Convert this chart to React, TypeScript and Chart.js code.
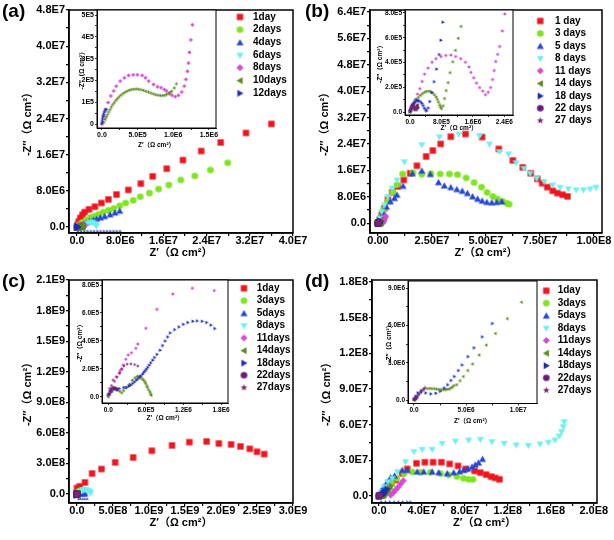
import React, { useEffect, useRef } from 'react';
import { Chart, registerables } from 'chart.js';
Chart.register(...registerables);

type P = [number, number];
type Shape = 'square' | 'circle' | 'up' | 'down' | 'diamond' | 'left' | 'right' | 'star';

const FONT = "'Liberation Sans', Arial, 'Noto Sans CJK SC', sans-serif";

// ---------- tick values & labels ----------
const aXTicks = [0, 8e6, 1.6e7, 2.4e7, 3.2e7, 4.0e7];
const aXLabels = ['0.0', '8.0E6', '1.6E7', '2.4E7', '3.2E7', '4.0E7'];
const aYTicks = [0, 8e6, 1.6e7, 2.4e7, 3.2e7, 4.0e7, 4.8e7];
const aYLabels = ['0.0', '8.0E6', '1.6E7', '2.4E7', '3.2E7', '4.0E7', '4.8E7'];
const bXTicks = [0, 2.5e7, 5e7, 7.5e7, 1e8];
const bXLabels = ['0.00', '2.50E7', '5.00E7', '7.50E7', '1.00E8'];
const bYTicks = [0, 8e6, 1.6e7, 2.4e7, 3.2e7, 4.0e7, 4.8e7, 5.6e7, 6.4e7];
const bYLabels = ['0.0', '8.0E6', '1.6E7', '2.4E7', '3.2E7', '4.0E7', '4.8E7', '5.6E7', '6.4E7'];
const cXTicks = [0, 5e8, 1e9, 1.5e9, 2e9, 2.5e9, 3e9];
const cXLabels = ['0.0', '5.0E8', '1.0E9', '1.5E9', '2.0E9', '2.5E9', '3.0E9'];
const cYTicks = [0, 3e8, 6e8, 9e8, 1.2e9, 1.5e9, 1.8e9, 2.1e9];
const cYLabels = ['0.0', '3.0E8', '6.0E8', '9.0E8', '1.2E9', '1.5E9', '1.8E9', '2.1E9'];
const dXTicks = [0, 4e7, 8e7, 1.2e8, 1.6e8, 2e8];
const dXLabels = ['0.0', '4.0E7', '8.0E7', '1.2E8', '1.6E8', '2.0E8'];
const dYTicks = [0, 3e7, 6e7, 9e7, 1.2e8, 1.5e8, 1.8e8];
const dYLabels = ['0.0', '3.0E7', '6.0E7', '9.0E7', '1.2E8', '1.5E8', '1.8E8'];

const aiXTicks = [0, 5e5, 1e6, 1.5e6];
const aiXLabels = ['0.0', '5.0E5', '1.0E6', '1.5E6'];
const aiYTicks = [0, 1e5, 2e5, 3e5, 4e5, 5e5];
const aiYLabels = ['0', '1E5', '2E5', '3E5', '4E5', '5E5'];
const biXTicks = [0, 8e5, 1.6e6, 2.4e6];
const biXLabels = ['0.0', '8.0E5', '1.6E6', '2.4E6'];
const biYTicks = [0, 2e5, 4e5, 6e5, 8e5];
const biYLabels = ['0.0', '2.0E5', '4.0E5', '6.0E5', '8.0E5'];
const ciXTicks = [0, 6e5, 1.2e6, 1.8e6];
const ciXLabels = ['0.0', '6.0E5', '1.2E6', '1.8E6'];
const ciYTicks = [0, 2e5, 4e5, 6e5, 8e5];
const ciYLabels = ['0.0', '2.0E5', '4.0E5', '6.0E5', '8.0E5'];
const diXTicks = [0, 5e6, 1e7];
const diXLabels = ['0.0', '5.0E6', '1.0E7'];
const diYTicks = [0, 3e6, 6e6, 9e6];
const diYLabels = ['0.0', '3.0E6', '6.0E6', '9.0E6'];

// ---------- legend labels ----------
const aLegend = ['1day', '2days', '4days', '6days', '8days', '10days', '12days'];
const bLegend = ['1 day', '3 days', '5 days', '8 days', '11 days', '14 days', '18 days', '22 days', '27 days'];
const cLegend = ['1day', '3days', '5days', '8days', '11days', '14days', '18days', '22days', '27days'];
const dLegend = ['1day', '3days', '5days', '8days', '11days', '14days', '18days', '22days', '27days'];

// ---------- panel (a) data ----------
const a_1day: P[] = [[0, 0], [1.0e5, 5.0e5], [3.0e5, 1.2e6], [6.0e5, 2.0e6], [1.0e6, 2.7e6], [1.4e6, 3.3e6], [2.2e6, 3.9e6], [3.3e6, 4.5e6], [4.5e6, 5.3e6], [5.8e6, 6.1e6], [7.3e6, 7.2e6], [9.5e6, 8.2e6], [1.18e7, 9.6e6], [1.40e7, 1.12e7], [1.66e7, 1.29e7], [1.96e7, 1.48e7], [2.30e7, 1.68e7], [2.66e7, 1.87e7], [3.13e7, 2.08e7], [3.60e7, 2.28e7]];
const a_2days: P[] = [[0, 0], [3e5, 4e5], [9e5, 1.0e6], [1.7e6, 1.6e6], [2.5e6, 2.1e6], [3.2e6, 2.4e6], [4.0e6, 2.8e6], [4.8e6, 3.3e6], [5.8e6, 3.7e6], [6.8e6, 4.1e6], [7.9e6, 4.7e6], [9.0e6, 5.3e6], [1.04e7, 5.9e6], [1.17e7, 6.7e6], [1.34e7, 7.5e6], [1.51e7, 8.4e6], [1.70e7, 9.3e6], [1.92e7, 1.04e7], [2.18e7, 1.13e7], [2.47e7, 1.26e7], [2.79e7, 1.42e7]];
const a_4days: P[] = [[0, 0], [3e5, 1.5e5], [7e5, 4e5], [1.2e6, 7e5], [1.7e6, 1.0e6], [2.3e6, 1.3e6], [3.0e6, 1.6e6], [3.6e6, 1.8e6], [4.3e6, 2.1e6], [5.1e6, 2.4e6], [6.1e6, 2.8e6], [7.0e6, 3.2e6], [7.9e6, 3.6e6]];
const a_6days: P[] = [[1.3e6, 2e5], [1.6e6, 6e5], [2.0e6, 9e5], [2.4e6, 1.1e6], [2.8e6, 1.1e6], [3.1e6, 9e5], [3.4e6, 6e5], [3.6e6, 3e5]];
const a_12days_low: P[] = [[2e5, -9e5], [8e5, -9e5], [1.4e6, -9e5], [2.0e6, -9e5], [2.6e6, -9e5], [3.2e6, -9e5], [3.8e6, -9e5], [4.4e6, -9e5], [5.0e6, -9e5], [5.6e6, -9e5], [6.2e6, -9e5], [6.8e6, -9e5], [7.4e6, -9e5], [8.0e6, -9e5]];
const a_in_8days: P[] = [[0, 0], [0.027e6, 0.38e5], [0.055e6, 0.68e5], [0.086e6, 0.99e5], [0.123e6, 1.29e5], [0.164e6, 1.52e5], [0.2e6, 1.74e5], [0.255e6, 1.97e5], [0.314e6, 2.12e5], [0.373e6, 2.23e5], [0.437e6, 2.26e5], [0.495e6, 2.26e5], [0.564e6, 2.23e5], [0.61e6, 2.12e5], [0.655e6, 1.97e5], [0.723e6, 1.82e5], [0.778e6, 1.71e5], [0.828e6, 1.67e5], [0.873e6, 1.59e5], [0.905e6, 1.52e5], [0.95e6, 1.41e5], [0.982e6, 1.32e5], [1.027e6, 1.26e5], [1.073e6, 1.32e5], [1.119e6, 1.47e5], [1.155e6, 1.74e5], [1.178e6, 2.05e5], [1.2e6, 2.42e5], [1.214e6, 2.8e5], [1.228e6, 3.29e5], [1.246e6, 3.86e5], [1.269e6, 4.55e5]];
const a_in_10days: P[] = [[0.02e6, 0.1e5], [0.041e6, 0.23e5], [0.057e6, 0.34e5], [0.073e6, 0.45e5], [0.09e6, 0.57e5], [0.109e6, 0.68e5], [0.128e6, 0.8e5], [0.146e6, 0.91e5], [0.168e6, 1.0e5], [0.191e6, 1.1e5], [0.213e6, 1.18e5], [0.236e6, 1.26e5], [0.263e6, 1.34e5], [0.291e6, 1.41e5], [0.318e6, 1.47e5], [0.345e6, 1.52e5], [0.375e6, 1.56e5], [0.405e6, 1.59e5], [0.44e6, 1.61e5], [0.473e6, 1.62e5], [0.507e6, 1.61e5], [0.541e6, 1.59e5], [0.575e6, 1.56e5], [0.61e6, 1.52e5], [0.644e6, 1.48e5], [0.678e6, 1.44e5], [0.712e6, 1.4e5], [0.746e6, 1.36e5], [0.78e6, 1.34e5], [0.814e6, 1.32e5], [0.845e6, 1.32e5], [0.873e6, 1.33e5], [0.9e6, 1.37e5], [0.928e6, 1.41e5], [0.95e6, 1.46e5], [0.973e6, 1.52e5], [1.01e6, 1.67e5], [1.04e6, 1.86e5]];
const a_in_12days: P[] = [[0.003e6, 0.05e5], [0.008e6, 0.15e5], [0.012e6, 0.25e5], [0.018e6, 0.35e5], [0.025e6, 0.45e5], [0.035e6, 0.55e5], [0.045e6, 0.62e5], [0.06e6, 0.68e5]];

// ---------- panel (b) data ----------
const b_1day: P[] = [[0, 0], [0.08e7, 0.10e7], [0.17e7, 0.25e7], [0.29e7, 0.45e7], [0.46e7, 0.71e7], [0.66e7, 0.93e7], [0.91e7, 1.11e7], [1.19e7, 1.31e7], [1.49e7, 1.51e7], [1.80e7, 1.74e7], [2.23e7, 2.02e7], [2.54e7, 2.20e7], [2.90e7, 2.40e7], [3.37e7, 2.62e7], [4.05e7, 2.70e7], [4.82e7, 2.61e7], [5.59e7, 2.25e7], [6.24e7, 1.90e7], [6.70e7, 1.69e7], [7.07e7, 1.51e7], [7.38e7, 1.34e7], [7.60e7, 1.21e7], [7.84e7, 1.09e7], [8.09e7, 0.98e7], [8.31e7, 0.91e7], [8.55e7, 0.86e7], [8.77e7, 0.81e7]];
const b_3days: P[] = [[0, 0], [0.11e7, 0.18e7], [0.26e7, 0.40e7], [0.45e7, 0.66e7], [0.69e7, 0.93e7], [0.88e7, 1.16e7], [1.14e7, 1.49e7], [1.62e7, 1.53e7], [2.03e7, 1.48e7], [2.45e7, 1.50e7], [2.88e7, 1.49e7], [3.31e7, 1.49e7], [3.68e7, 1.47e7], [4.08e7, 1.37e7], [4.45e7, 1.23e7], [4.79e7, 1.09e7], [5.05e7, 0.93e7], [5.32e7, 0.81e7], [5.53e7, 0.73e7], [5.76e7, 0.66e7], [5.96e7, 0.60e7], [6.07e7, 0.57e7]];
const b_5days: P[] = [[0, 0], [0.11e7, 0.15e7], [0.23e7, 0.32e7], [0.39e7, 0.50e7], [0.57e7, 0.66e7], [0.76e7, 0.76e7], [0.88e7, 0.86e7], [1.16e7, 1.13e7], [1.59e7, 1.51e7], [2.03e7, 1.59e7], [2.42e7, 1.49e7], [2.80e7, 1.24e7], [3.07e7, 1.14e7], [3.37e7, 1.09e7], [3.65e7, 1.03e7], [3.90e7, 0.98e7], [4.14e7, 0.91e7], [4.38e7, 0.81e7], [4.61e7, 0.74e7], [4.82e7, 0.68e7], [5.04e7, 0.64e7], [5.27e7, 0.63e7], [5.50e7, 0.64e7], [5.73e7, 0.66e7]];
const b_8days: P[] = [[0, 0], [0.08e7, 0.15e7], [0.17e7, 0.35e7], [0.29e7, 0.55e7], [0.45e7, 0.81e7], [0.65e7, 1.06e7], [0.88e7, 1.31e7], [1.22e7, 1.86e7], [2.03e7, 2.38e7], [2.85e7, 2.62e7], [3.74e7, 2.70e7], [4.70e7, 2.65e7], [5.16e7, 2.40e7], [5.62e7, 2.17e7], [6.04e7, 2.10e7], [6.39e7, 1.83e7], [6.76e7, 1.66e7], [7.04e7, 1.51e7], [7.35e7, 1.36e7], [7.69e7, 1.26e7], [8.09e7, 1.16e7], [8.43e7, 1.09e7], [8.81e7, 1.04e7], [9.17e7, 1.01e7], [9.51e7, 1.01e7], [9.82e7, 1.04e7], [10.09e7, 1.09e7]];
const b_11days_tail: P[] = [[2.6e6, 0.9e6], [2.9e6, 1.3e6], [3.2e6, 1.7e6], [3.5e6, 2.1e6]];
const b_in_11days: P[] = [[0, 0.15e5], [0.082e6, 0.58e5], [0.14e6, 1.02e5], [0.19e6, 1.46e5], [0.25e6, 1.89e5], [0.31e6, 2.47e5], [0.37e6, 3.06e5], [0.46e6, 3.55e5], [0.56e6, 4.02e5], [0.66e6, 4.31e5], [0.79e6, 4.48e5], [0.91e6, 4.57e5], [1.04e6, 4.6e5], [1.16e6, 4.48e5], [1.29e6, 4.31e5], [1.41e6, 4.02e5], [1.50e6, 3.64e5], [1.55e6, 3.2e5], [1.62e6, 2.77e5], [1.69e6, 2.33e5], [1.77e6, 1.98e5], [1.85e6, 1.69e5], [1.92e6, 1.4e5], [1.99e6, 1.6e5], [2.05e6, 1.98e5], [2.10e6, 2.62e5], [2.14e6, 3.35e5], [2.18e6, 4.08e5], [2.23e6, 4.66e5], [2.28e6, 5.3e5], [2.35e6, 6.55e5], [2.41e6, 7.92e5]];
const b_in_14days: P[] = [[0, 0], [0.02e6, 0.15e5], [0.04e6, 0.3e5], [0.06e6, 0.44e5], [0.09e6, 0.66e5], [0.12e6, 0.87e5], [0.16e6, 1.05e5], [0.21e6, 1.22e5], [0.26e6, 1.38e5], [0.31e6, 1.51e5], [0.36e6, 1.61e5], [0.41e6, 1.69e5], [0.47e6, 1.70e5], [0.52e6, 1.66e5], [0.57e6, 1.55e5], [0.62e6, 1.40e5], [0.66e6, 1.22e5], [0.69e6, 1.02e5], [0.72e6, 0.80e5], [0.75e6, 0.58e5], [0.77e6, 0.42e5], [0.79e6, 0.29e5], [0.83e6, 0.52e5], [0.87e6, 1.11e5], [0.91e6, 1.75e5], [0.96e6, 2.39e5], [1.01e6, 3.2e5], [1.08e6, 4.08e5], [1.15e6, 5.0e5], [1.22e6, 5.97e5], [1.29e6, 6.93e5]];
const b_in_18days: P[] = [[0, 0.05e5], [0.02e6, 0.25e5], [0.04e6, 0.44e5], [0.07e6, 0.6e5], [0.1e6, 0.73e5], [0.13e6, 0.85e5], [0.17e6, 0.93e5], [0.2e6, 0.95e5], [0.23e6, 0.93e5], [0.27e6, 0.85e5], [0.31e6, 0.73e5], [0.34e6, 0.55e5], [0.37e6, 0.35e5], [0.40e6, 0.2e5], [0.43e6, 0.12e5], [0.47e6, 0.35e5], [0.51e6, 0.87e5], [0.56e6, 1.6e5], [0.62e6, 2.47e5], [0.68e6, 3.49e5], [0.75e6, 4.66e5], [0.79e6, 5.82e5], [0.84e6, 7.28e5]];
const b_in_22days: P[] = [[0.01e6, 0.1e5], [0.03e6, 0.3e5], [0.05e6, 0.5e5], [0.08e6, 0.6e5], [0.1e6, 0.4e5], [0.12e6, 0.2e5], [0.15e6, 0.3e5], [0.18e6, 0.5e5], [0.2e6, 0.35e5]];
const b_in_27days: P[] = [[0.02e6, 0.2e5], [0.06e6, 0.45e5], [0.12e6, 0.3e5], [0.17e6, 0.15e5], [0.2e6, 0.6e5]];

// ---------- panel (c) data ----------
const c_1day: P[] = [[0, 0.59e8], [0.037e9, 0.75e8], [0.11e9, 1.14e8], [0.21e9, 2.02e8], [0.34e9, 2.45e8], [0.53e9, 3.10e8], [0.78e9, 3.59e8], [1.04e9, 4.25e8], [1.32e9, 4.77e8], [1.56e9, 5.09e8], [1.80e9, 5.16e8], [1.97e9, 4.96e8], [2.14e9, 4.87e8], [2.27e9, 4.67e8], [2.40e9, 4.44e8], [2.50e9, 4.15e8], [2.60e9, 3.92e8]];
const c_3days: P[] = [[0, 0], [0.01e9, 0.12e8], [0.025e9, 0.25e8], [0.045e9, 0.33e8], [0.065e9, 0.35e8], [0.085e9, 0.3e8], [0.1e9, 0.2e8]];
const c_5days: P[] = [[0, 0], [0.01e9, 0.04e8], [0.03e9, 0.07e8], [0.05e9, 0.09e8], [0.07e9, 0.1e8], [0.09e9, 0.08e8], [0.11e9, 0.05e8]];
const c_8days: P[] = [[0.05e9, 0.25e8], [0.07e9, 0.35e8], [0.09e9, 0.42e8], [0.11e9, 0.45e8], [0.13e9, 0.43e8], [0.15e9, 0.38e8], [0.17e9, 0.3e8], [0.18e9, 0.2e8], [0.19e9, 0.12e8]];
const c_5days_low: P[] = [[0.02e9, -0.45e8], [0.05e9, -0.45e8], [0.08e9, -0.45e8], [0.11e9, -0.45e8], [0.14e9, -0.45e8]];
const c_in_11days: P[] = [[0.02e6, 0.6e5], [0.076e6, 1.2e5], [0.127e6, 1.43e5], [0.178e6, 1.68e5], [0.188e6, 1.86e5], [0.219e6, 1.96e5], [0.239e6, 2.27e5], [0.279e6, 2.68e5], [0.319e6, 2.99e5], [0.37e6, 3.15e5], [0.44e6, 3.47e5], [0.471e6, 3.78e5], [0.599e6, 4.9e5], [0.775e6, 6.26e5], [1.029e6, 7.36e5], [1.34e6, 7.77e5], [1.69e6, 7.6e5]];
const c_in_14days: P[] = [[0, 0], [0.02e6, 0.2e5], [0.06e6, 0.45e5], [0.1e6, 0.6e5], [0.14e6, 0.55e5], [0.18e6, 0.4e5], [0.21e6, 0.3e5], [0.24e6, 0.45e5], [0.28e6, 0.65e5], [0.33e6, 0.9e5], [0.38e6, 1.2e5], [0.42e6, 1.38e5], [0.46e6, 1.48e5], [0.49e6, 1.45e5], [0.51e6, 1.39e5], [0.54e6, 1.3e5], [0.56e6, 1.2e5], [0.58e6, 1.08e5], [0.59e6, 0.96e5], [0.61e6, 0.8e5], [0.62e6, 0.67e5], [0.64e6, 0.5e5], [0.66e6, 0.36e5], [0.67e6, 0.22e5], [0.68e6, 0.12e5]];
const c_in_18days: P[] = [[0, 0.12e5], [0.05e6, 0.36e5], [0.10e6, 0.55e5], [0.14e6, 0.58e5], [0.18e6, 0.6e5], [0.25e6, 0.67e5], [0.29e6, 0.7e5], [0.33e6, 0.77e5], [0.36e6, 0.85e5], [0.39e6, 0.96e5], [0.42e6, 1.07e5], [0.45e6, 1.2e5], [0.47e6, 1.3e5], [0.50e6, 1.39e5], [0.52e6, 1.5e5], [0.55e6, 1.63e5], [0.57e6, 1.75e5], [0.59e6, 1.86e5], [0.61e6, 1.98e5], [0.63e6, 2.11e5], [0.655e6, 2.27e5], [0.68e6, 2.44e5], [0.71e6, 2.63e5], [0.74e6, 2.82e5], [0.78e6, 3.05e5], [0.83e6, 3.35e5], [0.87e6, 3.68e5], [0.91e6, 4.01e5], [0.95e6, 4.3e5], [0.99e6, 4.59e5], [1.06e6, 4.82e5], [1.13e6, 5.02e5], [1.2e6, 5.2e5], [1.27e6, 5.33e5], [1.35e6, 5.42e5], [1.42e6, 5.45e5], [1.5e6, 5.42e5], [1.57e6, 5.33e5], [1.64e6, 5.15e5], [1.70e6, 4.9e5]];
const c_in_22days: P[] = [[0.01e6, 0.2e5], [0.03e6, 0.4e5], [0.05e6, 0.55e5], [0.08e6, 0.65e5], [0.11e6, 0.6e5], [0.14e6, 0.5e5]];
const c_in_27days: P[] = [[0.05e6, 0.8e5], [0.1e6, 1.1e5], [0.14e6, 1.4e5], [0.18e6, 1.7e5], [0.21e6, 2.0e5], [0.25e6, 2.2e5], [0.3e6, 2.33e5], [0.36e6, 2.35e5], [0.42e6, 2.3e5], [0.47e6, 2.2e5]];

// ---------- panel (d) data ----------
const d_1day: P[] = [[0, 0], [0.40e7, 0.37e7], [0.77e7, 0.73e7], [1.14e7, 1.07e7], [1.55e7, 1.35e7], [2.16e7, 1.91e7], [2.63e7, 2.28e7], [3.49e7, 2.75e7], [4.27e7, 2.84e7], [5.04e7, 2.84e7], [5.81e7, 2.84e7], [6.58e7, 2.70e7], [7.36e7, 2.53e7], [8.07e7, 2.28e7], [8.90e7, 2.11e7], [9.43e7, 1.97e7], [9.98e7, 1.80e7], [10.45e7, 1.63e7], [10.82e7, 1.52e7], [11.22e7, 1.40e7]];
const d_3days: P[] = [[0, 0], [0.31e7, 0.28e7], [0.71e7, 0.65e7], [1.14e7, 1.07e7], [1.64e7, 1.49e7], [2.32e7, 1.91e7], [3.09e7, 2.02e7], [3.86e7, 1.99e7], [4.79e7, 1.99e7], [5.72e7, 1.88e7], [6.49e7, 1.77e7], [7.26e7, 1.63e7], [7.88e7, 1.49e7], [8.35e7, 1.40e7], [8.75e7, 1.40e7]];
const d_5days: P[] = [[0, 0], [0.22e7, 0.37e7], [0.46e7, 0.79e7], [0.77e7, 1.21e7], [1.08e7, 1.57e7], [1.45e7, 1.71e7], [2.16e7, 2.19e7], [2.63e7, 2.19e7], [3.55e7, 2.05e7], [4.17e7, 2.05e7], [4.95e7, 2.05e7], [5.56e7, 1.99e7], [6.34e7, 1.91e7], [6.96e7, 1.99e7], [7.51e7, 2.08e7], [7.88e7, 2.19e7], [8.28e7, 2.30e7], [8.66e7, 2.47e7], [8.96e7, 2.64e7], [9.27e7, 2.81e7], [9.64e7, 3.12e7]];
const d_8days: P[] = [[0, 0], [0.22e7, 0.37e7], [0.46e7, 0.79e7], [0.83e7, 1.21e7], [1.24e7, 1.49e7], [1.70e7, 2.05e7], [2.47e7, 2.89e7], [3.25e7, 3.74e7], [4.02e7, 3.93e7], [4.95e7, 3.93e7], [5.87e7, 4.44e7], [7.11e7, 4.63e7], [8.35e7, 4.72e7], [9.43e7, 4.78e7], [10.51e7, 4.58e7], [11.65e7, 4.44e7], [12.77e7, 4.30e7], [13.91e7, 4.27e7], [14.99e7, 4.38e7], [15.77e7, 4.52e7], [16.38e7, 4.72e7], [16.79e7, 5.06e7], [17.00e7, 5.42e7], [17.16e7, 5.84e7], [17.25e7, 6.26e7]];
const d_11days: P[] = [[1.08e7, 0.08e7], [1.33e7, 0.28e7], [1.55e7, 0.51e7], [1.76e7, 0.73e7], [2.01e7, 1.01e7], [2.26e7, 1.29e7]];
const d_5days_low: P[] = [[0.2e7, -0.45e7], [0.6e7, -0.45e7], [1.0e7, -0.45e7], [1.4e7, -0.45e7], [1.8e7, -0.45e7], [2.2e7, -0.45e7], [2.6e7, -0.45e7], [2.9e7, -0.45e7]];
const d_in_11days: P[] = [[0.1e6, 0.1e6], [0.3e6, 0.3e6], [0.5e6, 0.5e6], [0.7e6, 0.7e6], [0.9e6, 0.85e6], [1.05e6, 1.0e6]];
const d_in_14days: P[] = [[0, 0], [0.24e6, 0.32e6], [0.55e6, 0.64e6], [0.85e6, 0.86e6], [1.21e6, 0.94e6], [1.46e6, 0.95e6], [1.67e6, 0.94e6], [1.9e6, 0.93e6], [2.12e6, 0.91e6], [2.35e6, 0.88e6], [2.58e6, 0.86e6], [2.8e6, 0.85e6], [2.97e6, 0.86e6], [3.15e6, 0.88e6], [3.33e6, 0.91e6], [3.5e6, 0.98e6], [3.64e6, 1.07e6], [3.8e6, 1.18e6], [4.06e6, 1.25e6], [4.38e6, 1.57e6], [4.71e6, 1.91e6], [5.13e6, 2.39e6], [5.59e6, 2.92e6], [6.23e6, 3.64e6], [6.91e6, 4.44e6], [7.79e6, 5.37e6], [8.93e6, 6.56e6], [10.29e6, 7.89e6]];
const d_in_18days: P[] = [[0, 0.11e6], [0.17e6, 0.32e6], [0.39e6, 0.59e6], [0.72e6, 0.77e6], [1.14e6, 0.59e6], [1.63e6, 0.51e6], [2.11e6, 0.56e6], [2.53e6, 0.72e6], [2.92e6, 0.99e6], [3.25e6, 1.25e6], [3.57e6, 1.59e6], [3.89e6, 1.91e6], [4.28e6, 2.39e6], [4.64e6, 2.84e6], [5.2e6, 3.51e6], [5.78e6, 4.22e6], [6.56e6, 5.1e6], [7.53e6, 6.17e6]];
const d_in_22days: P[] = [[0.05e6, 0.05e6], [0.15e6, 0.12e6], [0.25e6, 0.2e6]];
const d_in_27days: P[] = [[0.2e6, 0.15e6], [0.45e6, 0.4e6], [0.7e6, 0.62e6], [0.95e6, 0.9e6]];

// ---------- styles ----------
const C = {
  red: '#f0141e', green: '#7fe51e', blue: '#2446d6', cyan: '#6cf0ee', magenta: '#d24bd2',
  olive: '#5d8a1c', navy: '#1c2cb8', purple: '#6a1d7d', wine: '#7a2a6e',
};
const ST: Record<string, { shape: Shape; color: string }> = {
  d1: { shape: 'square', color: C.red },
  d2: { shape: 'circle', color: C.green },
  d3: { shape: 'up', color: C.blue },
  d4: { shape: 'down', color: C.cyan },
  d5: { shape: 'diamond', color: C.magenta },
  d6: { shape: 'left', color: C.olive },
  d7: { shape: 'right', color: C.navy },
  d8: { shape: 'circle', color: C.purple },
  d9: { shape: 'star', color: C.wine },
};

function makeMarker(shape: Shape, color: string, size: number): HTMLCanvasElement {
  const dim = Math.ceil(size) + 2;
  const c = document.createElement('canvas');
  c.width = dim; c.height = dim;
  const g = c.getContext('2d') as CanvasRenderingContext2D;
  const cx = dim / 2, cy = dim / 2, r = size / 2;
  g.fillStyle = color;
  g.beginPath();
  if (shape === 'square') {
    const h = r * 0.9; g.rect(cx - h, cy - h, 2 * h, 2 * h);
  } else if (shape === 'circle') {
    g.arc(cx, cy, r * 0.95, 0, Math.PI * 2);
  } else if (shape === 'diamond') {
    g.moveTo(cx, cy - r); g.lineTo(cx + r, cy); g.lineTo(cx, cy + r); g.lineTo(cx - r, cy);
  } else if (shape === 'star') {
    for (let i = 0; i < 10; i++) {
      const ang = -Math.PI / 2 + i * Math.PI / 5;
      const rr = i % 2 ? r * 0.45 : r;
      const px = cx + rr * Math.cos(ang), py = cy + rr * Math.sin(ang);
      if (i) g.lineTo(px, py); else g.moveTo(px, py);
    }
  } else {
    const rot = ({ up: 0, right: Math.PI / 2, down: Math.PI, left: -Math.PI / 2 } as any)[shape];
    const pts = [[0, -r], [r, r * 0.75], [-r, r * 0.75]];
    pts.forEach(([px, py], i) => {
      const qx = cx + px * Math.cos(rot) - py * Math.sin(rot);
      const qy = cy + 0.1 * r + px * Math.sin(rot) + py * Math.cos(rot);
      if (i) g.lineTo(qx, qy); else g.moveTo(qx, qy);
    });
  }
  g.closePath(); g.fill();
  return c;
}

function withMinor(t: number[]) {
  const out: number[] = [];
  for (let i = 0; i < t.length; i++) {
    out.push(t[i]);
    if (i < t.length - 1) out.push((t[i] + t[i + 1]) / 2);
  }
  return out;
}

interface Axis { min: number; max: number; ticks: number[]; labels: string[] }
interface Ser { data: P[]; st: string; size: number }
interface Spec {
  box: { left: number; top: number; width: number; height: number };
  area: { left: number; top: number; right: number; bottom: number };
  x: Axis; y: Axis;
  xTitle: string; yTitle: string;
  tickFont: number; titleFont: number;
  xTitlePad: number; yTitlePad: number;
  tickLen: number; frame: number; xTickPad: number; yTickPad: number;
  fill: boolean; minor: boolean;
  series: Ser[];
  legend?: { mx: number; tx: number; y: number; dy: number; font: number; size: number; labels: string[]; styles: string[] };
}

function labelFor(ax: Axis) {
  return (v: number) => {
    const eps = Math.abs(ax.max - ax.min) * 1e-6;
    const i = ax.ticks.findIndex((t) => Math.abs(t - v) <= eps);
    return i >= 0 ? ax.labels[i] : '';
  };
}

function buildConfig(p: Spec): any {
  const W = p.box.width, H = p.box.height, a = p.area;
  const tickFont = { size: p.tickFont, weight: 'bold', family: FONT };
  const titleFont = { size: p.titleFont, weight: 'bold', family: FONT, lineHeight: 1.2 };
  const grid = { display: true, drawOnChartArea: false, drawTicks: true, tickLength: p.tickLen, color: '#000', lineWidth: p.frame * 0.8 };
  const border = { display: true, color: '#000', width: p.frame };
  const datasets = p.series.map((s, i) => ({
    label: 'S' + i,
    data: s.data.map(([x, y]) => ({ x, y })),
    pointStyle: makeMarker(ST[s.st].shape, ST[s.st].color, s.size),
    pointRadius: s.size / 2,
    pointHoverRadius: s.size / 2,
    showLine: false,
    order: -i,
  }));
  const legendMarkers = p.legend ? p.legend.styles.map((k) => makeMarker(ST[k].shape, ST[k].color, p.legend!.size)) : [];
  const deco = {
    id: 'deco',
    beforeDraw(chart: any) {
      if (!p.fill) return;
      const { ctx, chartArea: r } = chart;
      ctx.save(); ctx.fillStyle = '#fff';
      ctx.fillRect(r.left, r.top, r.right - r.left, r.bottom - r.top);
      ctx.restore();
    },
    afterDraw(chart: any) {
      const { ctx, chartArea: r } = chart;
      ctx.save();
      ctx.strokeStyle = '#000'; ctx.lineWidth = p.frame;
      ctx.strokeRect(r.left, r.top, r.right - r.left, r.bottom - r.top);
      if (p.legend) {
        const lg = p.legend;
        ctx.font = `bold ${lg.font}px ${FONT}`;
        ctx.textBaseline = 'middle'; ctx.textAlign = 'left'; ctx.fillStyle = '#000';
        lg.labels.forEach((t, i) => {
          const y = lg.y + i * lg.dy;
          const m = legendMarkers[i];
          ctx.drawImage(m, lg.mx - m.width / 2, y - m.height / 2);
          ctx.fillText(t, lg.tx, y);
        });
      }
      ctx.restore();
    },
  };
  const xt = p.minor ? withMinor(p.x.ticks) : p.x.ticks;
  const yt = p.minor ? withMinor(p.y.ticks) : p.y.ticks;
  return {
    type: 'scatter',
    data: { datasets },
    plugins: [deco],
    options: {
      animation: false,
      responsive: false,
      maintainAspectRatio: false,
      devicePixelRatio: 1,
      events: [],
      layout: { padding: { left: 0, top: a.top, right: W - a.right, bottom: 0 } },
      plugins: { legend: { display: false }, tooltip: { enabled: false }, title: { display: false } },
      scales: {
        x: {
          type: 'linear', position: 'bottom', min: p.x.min, max: p.x.max,
          afterBuildTicks: (s: any) => { s.ticks = xt.map((v) => ({ value: v })); },
          afterFit: (s: any) => { s.height = H - a.bottom; s.paddingLeft = 0; s.paddingRight = 0; },
          ticks: { autoSkip: false, maxRotation: 0, minRotation: 0, padding: p.xTickPad, color: '#000', font: tickFont, callback: labelFor(p.x) },
          grid, border,
          title: { display: true, text: p.xTitle, color: '#000', font: titleFont, padding: { top: 0, bottom: p.xTitlePad } },
        },
        y: {
          type: 'linear', position: 'left', min: p.y.min, max: p.y.max,
          afterBuildTicks: (s: any) => { s.ticks = yt.map((v) => ({ value: v })); },
          afterFit: (s: any) => { s.width = a.left; s.paddingTop = 0; s.paddingBottom = 0; },
          ticks: { autoSkip: false, padding: p.yTickPad, color: '#000', font: tickFont, callback: labelFor(p.y) },
          grid, border,
          title: { display: true, text: p.yTitle, color: '#000', font: titleFont, padding: { top: p.yTitlePad, bottom: 0 } },
        },
      },
    },
  };
}

const X_TITLE = 'Z′（Ω cm²）';
const Y_TITLE = '-Z″（Ω cm²）';
const MS = 7;   // main marker size
const IS = 3.6; // inset marker size

const mainBase = {
  xTitle: X_TITLE, yTitle: Y_TITLE, tickFont: 11, titleFont: 11, xTitlePad: 10.5,
  tickLen: 3, frame: 1.5, xTickPad: -2, yTickPad: 1, fill: false, minor: true,
};
const insetBase = {
  xTitle: X_TITLE, yTitle: Y_TITLE, tickFont: 6.5, titleFont: 6.5,
  tickLen: 2, frame: 1, xTickPad: 1, yTickPad: 1, fill: true, minor: true,
};

const SPECS: Spec[] = [
  {
    ...mainBase,
    box: { left: 0, top: 0, width: 307, height: 270 },
    area: { left: 69, top: 10, right: 293, bottom: 233 },
    x: { min: -1.5e6, max: 4.0e7, ticks: aXTicks, labels: aXLabels },
    y: { min: -1.33e6, max: 4.8e7, ticks: aYTicks, labels: aYLabels },
    yTitlePad: 21.4,
    series: [
      { data: a_1day, st: 'd1', size: MS }, { data: a_2days, st: 'd2', size: MS },
      { data: a_4days, st: 'd3', size: MS }, { data: a_6days, st: 'd4', size: MS },
      { data: a_in_8days, st: 'd5', size: MS }, { data: a_in_10days, st: 'd6', size: MS },
      { data: a_in_12days, st: 'd7', size: MS }, { data: a_12days_low, st: 'd7', size: 3 },
    ],
    legend: { mx: 240, tx: 253, y: 17, dy: 12.67, font: 10, size: 7, labels: aLegend, styles: ['d1', 'd2', 'd3', 'd4', 'd5', 'd6', 'd7'] },
  },
  {
    ...mainBase,
    box: { left: 307, top: 0, width: 307, height: 270 },
    area: { left: 63, top: 10, right: 295, bottom: 233 },
    x: { min: -3.7e6, max: 1.037e8, ticks: bXTicks, labels: bXLabels },
    y: { min: -3.0e6, max: 6.46e7, ticks: bYTicks, labels: bYLabels },
    yTitlePad: 11.4,
    series: [
      { data: b_1day, st: 'd1', size: MS }, { data: b_3days, st: 'd2', size: MS },
      { data: b_5days, st: 'd3', size: MS }, { data: b_8days, st: 'd4', size: MS },
      { data: [...b_in_11days, ...b_11days_tail], st: 'd5', size: MS }, { data: b_in_14days, st: 'd6', size: MS },
      { data: b_in_18days, st: 'd7', size: MS }, { data: b_in_22days, st: 'd8', size: MS },
      { data: b_in_27days, st: 'd9', size: MS },
    ],
    legend: { mx: 233.3, tx: 248, y: 21, dy: 12.46, font: 10, size: 7, labels: bLegend, styles: ['d1', 'd2', 'd3', 'd4', 'd5', 'd6', 'd7', 'd8', 'd9'] },
  },
  {
    ...mainBase,
    box: { left: 0, top: 270, width: 307, height: 270 },
    area: { left: 69, top: 10, right: 293, bottom: 233 },
    x: { min: -1.11e8, max: 3.0e9, ticks: cXTicks, labels: cXLabels },
    y: { min: -8.8e7, max: 2.1e9, ticks: cYTicks, labels: cYLabels },
    yTitlePad: 21.4,
    series: [
      { data: c_1day, st: 'd1', size: MS }, { data: c_3days, st: 'd2', size: MS },
      { data: c_5days, st: 'd3', size: MS }, { data: c_8days, st: 'd4', size: MS },
      { data: c_in_11days, st: 'd5', size: MS }, { data: c_in_14days, st: 'd6', size: MS },
      { data: c_in_18days, st: 'd7', size: MS }, { data: c_in_22days, st: 'd8', size: MS },
      { data: c_in_27days, st: 'd9', size: MS }, { data: c_5days_low, st: 'd3', size: 3 },
    ],
    legend: { mx: 244, tx: 256.7, y: 18.3, dy: 12.42, font: 10, size: 7, labels: cLegend, styles: ['d1', 'd2', 'd3', 'd4', 'd5', 'd6', 'd7', 'd8', 'd9'] },
  },
  {
    ...mainBase,
    box: { left: 307, top: 270, width: 307, height: 270 },
    area: { left: 65, top: 10, right: 290, bottom: 233 },
    x: { min: -6.5e6, max: 2.03e8, ticks: dXTicks, labels: dXLabels },
    y: { min: -5.9e6, max: 1.817e8, ticks: dYTicks, labels: dYLabels },
    yTitlePad: 13.4,
    series: [
      { data: d_1day, st: 'd1', size: MS }, { data: d_3days, st: 'd2', size: MS },
      { data: d_5days, st: 'd3', size: MS }, { data: d_8days, st: 'd4', size: MS },
      { data: d_11days, st: 'd5', size: MS }, { data: d_in_14days, st: 'd6', size: MS },
      { data: d_in_18days, st: 'd7', size: MS }, { data: d_in_22days, st: 'd8', size: MS },
      { data: d_in_27days, st: 'd9', size: MS }, { data: d_5days_low, st: 'd3', size: 3 },
    ],
    legend: { mx: 239.3, tx: 250.7, y: 20.7, dy: 12.45, font: 10, size: 7, labels: dLegend, styles: ['d1', 'd2', 'd3', 'd4', 'd5', 'd6', 'd7', 'd8', 'd9'] },
  },
  // insets
  {
    ...insetBase, tickFont: 7,
    box: { left: 70, top: 5, width: 150, height: 145 },
    area: { left: 27, top: 5, right: 146, bottom: 123 },
    x: { min: -0.07e6, max: 1.6e6, ticks: aiXTicks, labels: aiXLabels },
    y: { min: -0.18e5, max: 5.23e5, ticks: aiYTicks, labels: aiYLabels },
    xTitlePad: 1.1, yTitlePad: 8.1,
    series: [
      { data: a_in_8days, st: 'd5', size: 4.2 }, { data: a_in_10days, st: 'd6', size: IS },
      { data: a_in_12days, st: 'd7', size: IS },
    ],
  },
  {
    ...insetBase,
    box: { left: 375, top: 5, width: 142, height: 135 },
    area: { left: 30, top: 5, right: 138, bottom: 110 },
    x: { min: -0.127e6, max: 2.62e6, ticks: biXTicks, labels: biXLabels },
    y: { min: -0.24e5, max: 8.24e5, ticks: biYTicks, labels: biYLabels },
    xTitlePad: 8.1, yTitlePad: 1.1,
    series: [
      { data: b_in_11days, st: 'd5', size: IS }, { data: b_in_14days, st: 'd6', size: IS },
      { data: b_in_18days, st: 'd7', size: IS }, { data: b_in_22days, st: 'd8', size: IS },
      { data: b_in_27days, st: 'd9', size: IS },
    ],
  },
  {
    ...insetBase,
    box: { left: 72, top: 275, width: 160, height: 150 },
    area: { left: 30, top: 5, right: 156, bottom: 128 },
    x: { min: -0.1e6, max: 1.91e6, ticks: ciXTicks, labels: ciXLabels },
    y: { min: -0.45e5, max: 8.36e5, ticks: ciYTicks, labels: ciYLabels },
    xTitlePad: 2.8, yTitlePad: 4.1,
    series: [
      { data: c_in_11days, st: 'd5', size: IS }, { data: c_in_14days, st: 'd6', size: IS },
      { data: c_in_18days, st: 'd7', size: IS }, { data: c_in_22days, st: 'd8', size: IS },
      { data: c_in_27days, st: 'd9', size: IS },
    ],
  },
  {
    ...insetBase,
    box: { left: 378, top: 276, width: 163, height: 152 },
    area: { left: 30, top: 5, right: 159, bottom: 127.5 },
    x: { min: -0.575e6, max: 11.8e6, ticks: diXTicks, labels: diXLabels },
    y: { min: -0.28e6, max: 9.57e6, ticks: diYTicks, labels: diYLabels },
    xTitlePad: 3.1, yTitlePad: 7.1,
    series: [
      { data: d_in_11days, st: 'd5', size: IS }, { data: d_in_14days, st: 'd6', size: IS },
      { data: d_in_18days, st: 'd7', size: IS }, { data: d_in_22days, st: 'd8', size: IS },
      { data: d_in_27days, st: 'd9', size: IS },
    ],
  },
];

const PANEL_LABELS = [
  { t: '(a)', x: 2, y: 1 }, { t: '(b)', x: 305, y: 1 },
  { t: '(c)', x: 2, y: 271 }, { t: '(d)', x: 305, y: 271 },
];

function ChartBox({ spec }: { spec: Spec }) {
  const ref = useRef<HTMLCanvasElement>(null);
  useEffect(() => {
    const chart = new Chart(ref.current as HTMLCanvasElement, buildConfig(spec));
    return () => chart.destroy();
  }, [spec]);
  const b = spec.box;
  return (
    <canvas
      ref={ref}
      width={b.width}
      height={b.height}
      style={{ position: 'absolute', left: b.left, top: b.top, width: b.width, height: b.height, display: 'block' }}
    />
  );
}

export default function App() {
  return (
    <div style={{ position: 'fixed', left: 0, top: 0, width: 614, height: 540, background: '#fff', overflow: 'hidden' }}>
      {SPECS.map((s, i) => <ChartBox key={i} spec={s} />)}
      {PANEL_LABELS.map((l) => (
        <div key={l.t} style={{ position: 'absolute', left: l.x, top: l.y, font: `bold 19px ${FONT}`, lineHeight: '20px', color: '#000' }}>{l.t}</div>
      ))}
    </div>
  );
}
